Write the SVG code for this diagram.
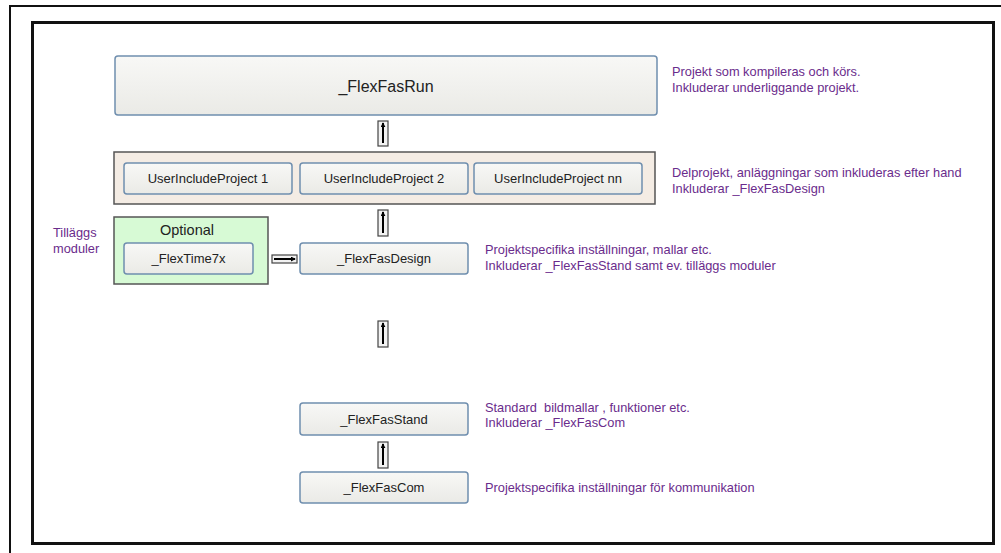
<svg xmlns="http://www.w3.org/2000/svg" width="1001" height="553" viewBox="0 0 1001 553">
<style>
.node rect.box{fill:url(#g);stroke:#6f8eae;stroke-width:1.5}
.lbl{font-family:"Liberation Sans",Arial,sans-serif;font-size:13px;fill:#222;text-anchor:middle}
.note{font-family:"Liberation Sans",Arial,sans-serif;font-size:12.8px;fill:#6a2c8c;white-space:pre}
.icon{fill:#f2f2f2;stroke:#444;stroke-width:1.2}
.arr{stroke:#000;stroke-width:2;fill:none;marker-end:url(#ah)}
</style>
<defs>
<linearGradient id="g" x1="0" y1="0" x2="0" y2="1">
<stop offset="0" stop-color="#f8f8f6"/>
<stop offset="1" stop-color="#eaeae6"/>
</linearGradient>
<marker id="ah" viewBox="0 0 6 6" refX="5" refY="3" markerWidth="5" markerHeight="5" orient="auto" markerUnits="userSpaceOnUse">
<path d="M0,0 L6,3 L0,6 z" fill="#000"/>
</marker>
</defs>
<rect width="1001" height="553" fill="#fff"/>
<!-- outer frame -->
<path d="M10,553 V6 H1001" fill="none" stroke="#111" stroke-width="2"/>
<!-- inner frame -->
<rect x="32.5" y="22.5" width="961" height="521" fill="#fff" stroke="#111" stroke-width="3"/>

<g id="flexfasrun" class="node">
<rect class="box" x="115" y="56" width="542" height="59" rx="3"/>
<text class="lbl" x="386" y="92" style="font-size:16px">_FlexFasRun</text>
</g>

<g id="userinclude" class="node">
<rect x="114" y="152" width="541" height="52" fill="#f4ece4" stroke="#555" stroke-width="1.5"/>
<g id="uip1"><rect class="box" x="124" y="163" width="168" height="31" rx="3"/><text class="lbl" x="208" y="183">UserIncludeProject 1</text></g>
<g id="uip2"><rect class="box" x="300" y="163" width="168" height="31" rx="3"/><text class="lbl" x="384" y="183">UserIncludeProject 2</text></g>
<g id="uipnn"><rect class="box" x="474" y="163" width="168" height="31" rx="3"/><text class="lbl" x="558" y="183">UserIncludeProject nn</text></g>
</g>

<g id="optional" class="node">
<rect x="114" y="217" width="154" height="67" fill="#d7fad5" stroke="#555" stroke-width="1.5"/>
<text class="lbl" x="187" y="235" style="font-size:14.5px">Optional</text>
<g id="flextime7x"><rect class="box" x="124" y="243" width="129" height="31" rx="3"/><text class="lbl" x="188.5" y="263">_FlexTime7x</text></g>
</g>

<g id="flexfasdesign" class="node">
<rect class="box" x="300" y="243" width="168" height="31" rx="3"/>
<text class="lbl" x="384" y="263">_FlexFasDesign</text>
</g>

<g id="flexfasstand" class="node">
<rect class="box" x="300" y="403" width="168" height="32" rx="3"/>
<text class="lbl" x="384" y="424">_FlexFasStand</text>
</g>

<g id="flexfascom" class="node">
<rect class="box" x="300" y="472" width="168" height="31" rx="3"/>
<text class="lbl" x="384" y="492">_FlexFasCom</text>
</g>

<g id="connectors">
<rect class="icon" x="378" y="121" width="10" height="25"/>
<line class="arr" x1="383" y1="143" x2="383" y2="123"/>
<rect class="icon" x="378" y="210" width="10" height="26"/>
<line class="arr" x1="383" y1="233" x2="383" y2="212"/>
<rect class="icon" x="378" y="321" width="10" height="26"/>
<line class="arr" x1="383" y1="344" x2="383" y2="323"/>
<rect class="icon" x="378" y="442" width="10" height="26"/>
<line class="arr" x1="383" y1="465" x2="383" y2="444"/>
<rect class="icon" x="272" y="255" width="25" height="8"/>
<line class="arr" x1="274" y1="259" x2="295" y2="259"/>
</g>

<g id="notes">
<text class="note" x="672" y="76">Projekt som kompileras och körs.</text>
<text class="note" x="672" y="92">Inkluderar underliggande projekt.</text>
<text class="note" x="672" y="177">Delprojekt, anläggningar som inkluderas efter hand</text>
<text class="note" x="672" y="193">Inkluderar _FlexFasDesign</text>
<text class="note" x="485" y="254">Projektspecifika inställningar, mallar etc.</text>
<text class="note" x="485" y="270">Inkluderar _FlexFasStand samt ev. tilläggs moduler</text>
<text class="note" x="485" y="412" xml:space="preserve">Standard  bildmallar , funktioner etc.</text>
<text class="note" x="485" y="427">Inkluderar _FlexFasCom</text>
<text class="note" x="485" y="492">Projektspecifika inställningar för kommunikation</text>
<text class="note" x="53" y="237">Tilläggs</text>
<text class="note" x="53" y="253">moduler</text>
</g>
</svg>
